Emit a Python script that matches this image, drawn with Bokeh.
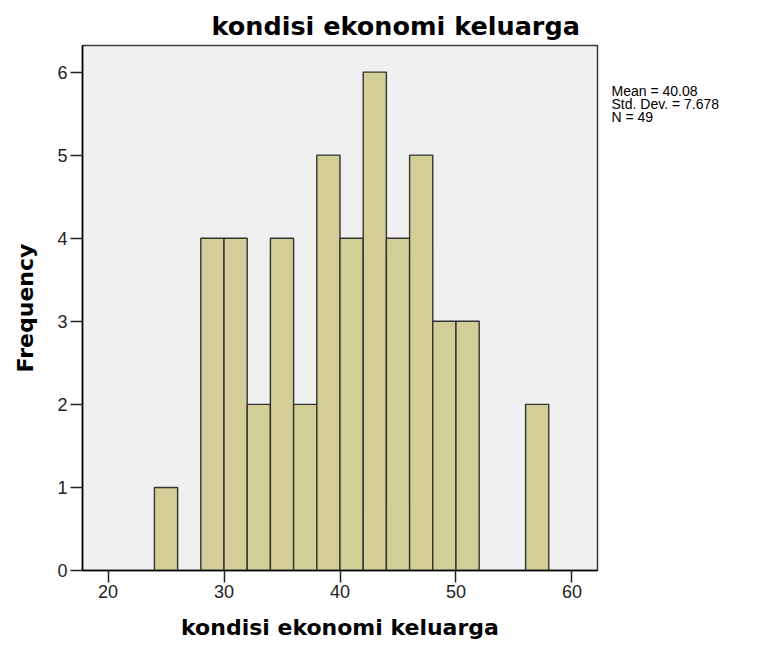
from bokeh.plotting import figure
from bokeh.models import Range1d, FixedTicker, LinearAxis
from bokeh.embed import file_html
from bokeh.resources import INLINE

# ---- data ----
bin_left = [24, 28, 30, 32, 34, 36, 38, 40, 42, 44, 46, 48, 50, 56]
counts = [1, 4, 4, 2, 4, 2, 5, 4, 6, 4, 5, 3, 3, 2]
bin_width = 2
x_ticks = [20, 30, 40, 50, 60]
y_ticks = [0, 1, 2, 3, 4, 5, 6]
title_text = "kondisi ekonomi keluarga"
x_label = "kondisi ekonomi keluarga"
y_label = "Frequency"
stats_lines = ["Mean = 40.08", "Std. Dev. = 7.678", "N = 49"]

# ---- geometry (canvas px) ----
W, H = 759, 642
FL, FR, FT, FB = 82, 597, 45, 572   # frame edges
X0, X1 = 17.8, 62.2
Y0, Y1 = 0.0, 6.32
STATS_Y = [91, 104, 117]            # vertical pixel rows of the statistics text

p = figure(width=W, height=H, x_range=Range1d(X0, X1), y_range=Range1d(Y0, Y1),
           output_backend="svg", toolbar_location=None,
           min_border_left=FL, min_border_right=W - FR,
           min_border_top=FT, min_border_bottom=H - FB)

p.background_fill_color = "#F0F0F0"
p.border_fill_color = "white"
p.outline_line_color = "#3a3a3a"
p.outline_line_width = 1.5
p.xgrid.visible = False
p.ygrid.visible = False

rights = [b + bin_width for b in bin_left]
p.quad(left=bin_left, right=rights, bottom=0, top=counts,
       fill_color="#D3CE97", line_color="#333333", line_width=1.4)

for ax in (p.xaxis[0], p.yaxis[0]):
    ax.axis_line_color = "black"
    ax.axis_line_width = 1.5
    ax.major_tick_line_color = "#222222"
    ax.major_tick_line_width = 1.5
    ax.major_tick_in = 0
    ax.major_tick_out = 12
    ax.minor_tick_line_color = None
    ax.major_label_text_font = "Liberation Sans"
    ax.major_label_text_font_size = "18px"
    ax.major_label_text_color = "#222222"
    ax.axis_label_text_font = "DejaVu Sans"
    ax.axis_label_text_font_style = "bold"
    ax.axis_label_text_font_size = "22px"
    ax.axis_label_text_color = "black"

p.xaxis.ticker = FixedTicker(ticks=x_ticks)
p.yaxis.ticker = FixedTicker(ticks=y_ticks)
p.xaxis.major_label_standoff = 2
p.yaxis.major_label_standoff = 3
p.xaxis.axis_label = x_label
p.yaxis.axis_label = y_label
p.xaxis.axis_label_standoff = 14
p.yaxis.axis_label_standoff = 16

# title
p.title.text = title_text
p.title.text_font = "DejaVu Sans"
p.title.text_font_style = "bold"
p.title.text_font_size = "25.5px"
p.title.text_color = "black"
p.title.align = "left"
p.title.offset = 129
p.title.standoff = 10

# statistics text: a label-only axis on the right, on a pixel-row range
p.extra_y_ranges = {"stats": Range1d(start=FB, end=FT)}
stats_axis = LinearAxis(y_range_name="stats",
                        ticker=FixedTicker(ticks=STATS_Y),
                        major_label_overrides={t: s for t, s in zip(STATS_Y, stats_lines)},
                        axis_line_color=None, major_tick_line_color=None,
                        minor_tick_line_color=None, major_tick_in=0, major_tick_out=0,
                        major_label_standoff=14,
                        major_label_text_font="Liberation Sans",
                        major_label_text_font_size="14px",
                        major_label_text_color="black")
p.add_layout(stats_axis, "right")

open("out.html", "w").write(file_html(p, INLINE))
